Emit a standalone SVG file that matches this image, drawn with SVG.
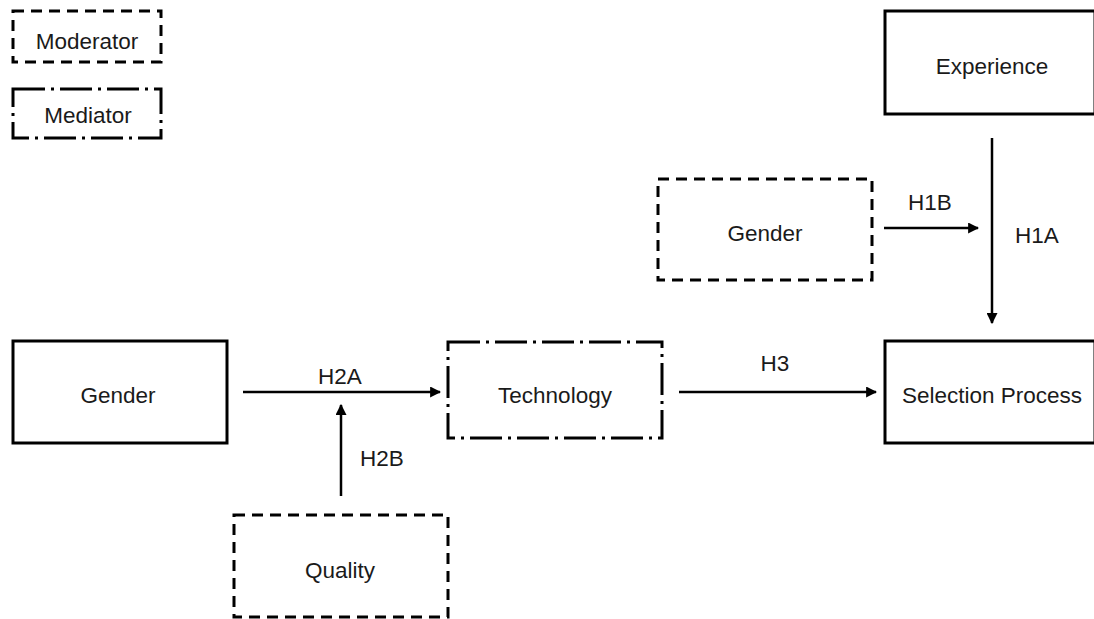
<svg xmlns="http://www.w3.org/2000/svg" width="1094" height="619" viewBox="0 0 1094 619">
<style>
text{font-family:"Liberation Sans",Arial,sans-serif;font-size:22.5px;fill:#1a1a1a;text-anchor:middle;dominant-baseline:central}
.solid{fill:#fff;stroke:#000;stroke-width:3}
.mod{fill:#fff;stroke:#000;stroke-width:3;stroke-dasharray:11 7}
.med{fill:#fff;stroke:#000;stroke-width:3;stroke-dasharray:32 6 3 6}
.conn{stroke:#000;stroke-width:2.5;fill:none;marker-end:url(#ah)}
</style>
<defs>
<marker id="ah" viewBox="0 0 10 10" refX="9" refY="5" markerWidth="4.4" markerHeight="4.4" orient="auto" markerUnits="strokeWidth">
<path d="M0,0 L10,5 L0,10 z" fill="#000"/>
</marker>
</defs>
<rect width="1094" height="619" fill="#fff"/>
<g id="legend-moderator"><rect class="mod" x="13" y="11" width="148" height="51"/><text x="87" y="41">Moderator</text></g>
<g id="legend-mediator"><rect class="med" x="13" y="89" width="148" height="49"/><text x="88" y="115">Mediator</text></g>
<g id="experience"><rect class="solid" x="885" y="11" width="210" height="103"/><text x="992" y="66">Experience</text></g>
<g id="gender-mod"><rect class="mod" x="658" y="179" width="214" height="101"/><text x="765" y="233">Gender</text></g>
<g id="gender"><rect class="solid" x="13" y="341" width="214" height="102"/><text x="118" y="395">Gender</text></g>
<g id="technology"><rect class="med" x="448" y="342" width="214" height="96"/><text x="555" y="395">Technology</text></g>
<g id="selection"><rect class="solid" x="885" y="341" width="210" height="102"/><text x="992" y="395">Selection Process</text></g>
<g id="quality"><rect class="mod" x="234" y="515" width="214" height="102"/><text x="340" y="570">Quality</text></g>
<g id="connectors">
<line class="conn" x1="243" y1="392" x2="440" y2="392"/>
<line class="conn" x1="341" y1="496" x2="341" y2="405"/>
<line class="conn" x1="679" y1="392" x2="876" y2="392"/>
<line class="conn" x1="884" y1="228" x2="978" y2="228"/>
<line class="conn" x1="992" y1="138" x2="992" y2="323"/>
<text x="340" y="376">H2A</text>
<text x="382" y="458">H2B</text>
<text x="775" y="363">H3</text>
<text x="930" y="202">H1B</text>
<text x="1037" y="235">H1A</text>
</g>
</svg>
